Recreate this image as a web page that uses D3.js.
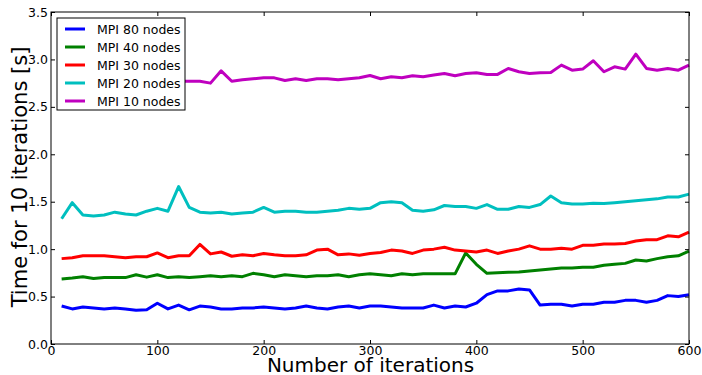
<html>
<head>
<script src="https://cdnjs.cloudflare.com/ajax/libs/d3/7.8.5/d3.min.js"></script>
<style>
  body { margin: 0; background: #fff; }
  text { font-family: "DejaVu Sans", sans-serif; }
</style>
</head>
<body>
<svg id="plot" width="702" height="375"></svg>
<script>

// iterations 10..600 step 10
var iterations = d3.range(10, 601, 10)

var mpi80 = [0.40,0.37,0.39,0.38,0.37,0.38,0.37,0.355,0.36,0.43,
             0.37,0.41,0.36,0.40,0.39,0.37,0.37,0.38,0.38,0.39,
             0.38,0.37,0.38,0.40,0.38,0.37,0.39,0.40,0.38,0.40,
             0.40,0.39,0.38,0.38,0.38,0.41,0.38,0.40,0.39,0.43,
             0.52,0.56,0.56,0.58,0.57,0.41,0.42,0.42,0.40,0.42,
             0.42,0.44,0.44,0.46,0.46,0.44,0.46,0.51,0.50,0.52]

var mpi40 = [0.685,0.695,0.71,0.69,0.70,0.70,0.70,0.73,0.705,0.73,
             0.70,0.71,0.70,0.71,0.72,0.71,0.72,0.71,0.745,0.73,
             0.71,0.73,0.72,0.71,0.72,0.72,0.73,0.71,0.73,0.74,
             0.73,0.72,0.74,0.73,0.74,0.74,0.74,0.74,0.96,0.84,
             0.745,0.75,0.757,0.76,0.77,0.78,0.79,0.80,0.80,0.81,
             0.81,0.83,0.84,0.85,0.885,0.875,0.90,0.92,0.93,0.98]

var mpi30 = [0.90,0.91,0.93,0.93,0.93,0.92,0.91,0.92,0.92,0.96,
             0.91,0.93,0.93,1.05,0.95,0.97,0.925,0.94,0.93,0.955,
             0.94,0.93,0.93,0.94,0.99,1.00,0.94,0.95,0.935,0.955,
             0.965,0.99,0.98,0.955,0.99,1.00,1.02,0.99,0.98,0.97,
             0.99,0.955,0.98,1.00,1.035,1.00,1.00,1.01,1.00,1.04,
             1.04,1.055,1.055,1.06,1.085,1.10,1.10,1.14,1.13,1.18]

var mpi20 = [1.32,1.49,1.36,1.35,1.36,1.39,1.37,1.36,1.40,1.43,
             1.40,1.66,1.44,1.39,1.38,1.39,1.37,1.38,1.39,1.44,
             1.39,1.40,1.40,1.39,1.39,1.40,1.41,1.43,1.42,1.43,
             1.49,1.50,1.49,1.41,1.40,1.415,1.46,1.45,1.45,1.43,
             1.47,1.42,1.42,1.45,1.44,1.47,1.56,1.49,1.475,1.475,
             1.485,1.48,1.49,1.50,1.51,1.52,1.53,1.55,1.55,1.58]

var mpi10 = [2.76,2.77,2.76,2.75,2.77,2.76,2.76,2.77,2.76,2.77,
             2.76,2.77,2.77,2.77,2.75,2.88,2.77,2.785,2.796,2.806,
             2.806,2.778,2.796,2.778,2.796,2.796,2.785,2.796,2.806,2.831,
             2.796,2.817,2.806,2.828,2.817,2.835,2.852,2.828,2.852,2.86,
             2.842,2.842,2.905,2.87,2.852,2.86,2.863,2.94,2.887,2.898,
             2.986,2.87,2.922,2.898,3.056,2.905,2.887,2.905,2.887,2.94]

var seriesNames = ["MPI 80 nodes", "MPI 40 nodes", "MPI 30 nodes", "MPI 20 nodes", "MPI 10 nodes"]
var seriesColors = ["#0000ff", "#008000", "#ff0000", "#00bfbf", "#bf00bf"]
var seriesValues = [mpi80, mpi40, mpi30, mpi20, mpi10]

var xTicks = [0, 100, 200, 300, 400, 500, 600]
var yTicks = [0.0, 0.5, 1.0, 1.5, 2.0, 2.5, 3.0, 3.5]

function drawChart() {
  var mLeft = 51, mRight = 689, mTop = 12, mBottom = 344

  var svg = d3.select("#plot")

  var x = d3.scaleLinear().domain([0, 600]).range([mLeft, mRight])
  var y = d3.scaleLinear().domain([0, 3.5]).range([mBottom, mTop])

  // lines
  var line = d3.line()
    .x((d, i) => x(iterations[i]))
    .y(d => y(d))

  var plot = svg.append("g")
  seriesValues.forEach((vals, k) => {
    plot.append("path")
      .attr("d", line(vals))
      .attr("fill", "none")
      .attr("stroke", seriesColors[k])
      .attr("stroke-width", 3)
      .attr("stroke-linejoin", "round")
  })

  // axes, ticks pointing inward like matplotlib classic
  svg.append("g")
    .attr("transform", "translate(0," + mBottom + ")")
    .call(d3.axisBottom(x).tickValues(xTicks).tickSize(-4).tickPadding(2.5).tickFormat(d3.format("d")))
  svg.append("g")
    .attr("transform", "translate(0," + mTop + ")")
    .call(d3.axisTop(x).tickValues(xTicks).tickSize(-4).tickFormat(""))
  svg.append("g")
    .attr("transform", "translate(" + mLeft + ",0)")
    .call(d3.axisLeft(y).tickValues(yTicks).tickSize(-4).tickPadding(3).tickFormat(d3.format(".1f")))
  svg.append("g")
    .attr("transform", "translate(" + mRight + ",0)")
    .call(d3.axisRight(y).tickValues(yTicks).tickSize(-4).tickFormat(""))

  svg.selectAll(".domain").remove()
  svg.selectAll(".tick line").attr("stroke", "#000")
  svg.selectAll(".tick text")
    .attr("font-size", 12.5)
    .attr("font-family", "DejaVu Sans")
    .attr("fill", "#000")

  // frame
  svg.append("rect")
    .attr("x", mLeft).attr("y", mTop)
    .attr("width", mRight - mLeft).attr("height", mBottom - mTop)
    .attr("fill", "none").attr("stroke", "#000").attr("stroke-width", 1)

  // axis labels
  svg.append("text")
    .attr("x", (mLeft + mRight) / 2 + 0.5).attr("y", 372)
    .attr("text-anchor", "middle")
    .attr("font-size", 20)
    .text("Number of iterations")

  svg.append("text")
    .attr("transform", "translate(26.5,177) rotate(-90)")
    .attr("text-anchor", "middle")
    .attr("font-size", 21)
    .text("Time for 10 iterations [s]")

  // legend
  var legend = svg.append("g").attr("transform", "translate(57,18)")
  legend.append("rect")
    .attr("width", 128).attr("height", 92)
    .attr("fill", "#fff").attr("stroke", "#000").attr("stroke-width", 1)
  seriesNames.forEach((name, k) => {
    var ly = 11 + k * 18
    legend.append("line")
      .attr("x1", 8).attr("x2", 28).attr("y1", ly).attr("y2", ly)
      .attr("stroke", seriesColors[k]).attr("stroke-width", 3)
    legend.append("text")
      .attr("x", 40).attr("y", ly + 4.5)
      .attr("font-size", 12.5)
      .text(name)
  })
}

drawChart()

</script>
</body>
</html>
